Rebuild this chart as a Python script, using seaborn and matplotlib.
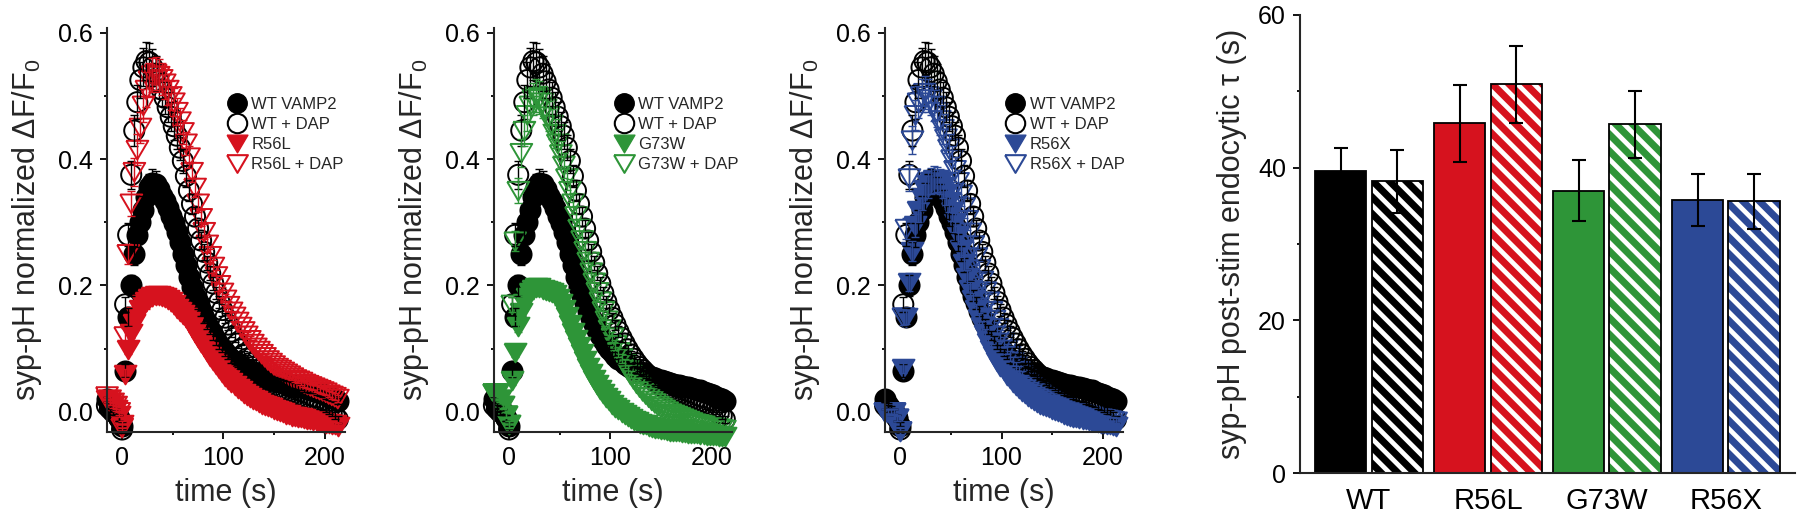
import matplotlib
matplotlib.use("Agg")
import matplotlib.pyplot as plt
from matplotlib.lines import Line2D
from matplotlib.patches import Rectangle
from matplotlib.ticker import MultipleLocator, FormatStrFormatter
import numpy as np
import pandas as pd
import seaborn as sns

sns.set_style("ticks")
plt.rcParams["font.family"] = ["Liberation Sans", "DejaVu Sans"]
plt.rcParams["mathtext.fontset"] = "custom"
plt.rcParams["mathtext.rm"] = "Liberation Sans"
plt.rcParams["mathtext.it"] = "Liberation Sans:italic"
plt.rcParams["mathtext.default"] = "regular"
plt.rcParams["hatch.linewidth"] = 3.4
plt.rcParams["axes.linewidth"] = 1.5
for ax_name in ("xtick", "ytick"):
    plt.rcParams[f"{ax_name}.major.size"] = 5
    plt.rcParams[f"{ax_name}.minor.size"] = 2.5
    plt.rcParams[f"{ax_name}.major.width"] = 1.3
    plt.rcParams[f"{ax_name}.minor.width"] = 1.3
    plt.rcParams[f"{ax_name}.color"] = "black"

BLACK = "#000000"
RED = "#D6121E"
GREEN = "#2E9538"
BLUE = "#2C4996"

# --- traces: sampled every 3 s from -15 s to 213 s ---
time_s = np.arange(-15, 214, 3)

wt_vamp2 = [0.02, 0.01, 0.005, 0.0, -0.01, -0.022, 0.065, 0.15, 0.20, 0.25,
            0.28, 0.30, 0.32, 0.34, 0.355, 0.362, 0.36, 0.352, 0.342, 0.333,
            0.322, 0.31, 0.298, 0.285, 0.268, 0.25, 0.232, 0.214, 0.197, 0.184,
            0.172, 0.160, 0.149, 0.139, 0.130, 0.121, 0.113, 0.106, 0.100, 0.094,
            0.089, 0.084, 0.080, 0.076, 0.073, 0.070, 0.067, 0.065, 0.063, 0.061,
            0.059, 0.057, 0.055, 0.053, 0.051, 0.050, 0.048, 0.047, 0.046, 0.044,
            0.043, 0.042, 0.041, 0.040, 0.039, 0.037, 0.036, 0.035, 0.034, 0.032,
            0.030, 0.028, 0.026, 0.024, 0.022, 0.020, 0.017]
wt_vamp2_sem = [.004, .004, .004, .004, .005, .006, .010, .014, .016, .018,
                .019, .020, .021, .022, .022, .022, .021, .020, .019, .018,
                .017, .016, .015, .014, .013, .012, .011, .010, .010, .009,
                .009, .008, .008, .008, .007, .007, .007, .006, .006, .006,
                .006, .006, .005, .005, .005, .005, .005, .005, .005, .005,
                .005, .005, .005, .005, .005, .005, .005, .005, .005, .005,
                .005, .005, .005, .005, .005, .005, .005, .005, .005, .005,
                .005, .005, .005, .005, .005, .005, .005]

wt_dap = [0.01, 0.005, 0.0, 0.0, -0.01, -0.028, 0.17, 0.28, 0.375, 0.445,
          0.49, 0.525, 0.545, 0.555, 0.553, 0.545, 0.535, 0.523, 0.51, 0.497,
          0.482, 0.467, 0.452, 0.437, 0.418, 0.397, 0.373, 0.350, 0.329, 0.309,
          0.290, 0.271, 0.253, 0.236, 0.219, 0.203, 0.188, 0.174, 0.161, 0.149,
          0.138, 0.127, 0.117, 0.108, 0.099, 0.091, 0.084, 0.077, 0.071, 0.066,
          0.061, 0.056, 0.052, 0.048, 0.045, 0.042, 0.039, 0.036, 0.034, 0.032,
          0.030, 0.028, 0.026, 0.024, 0.022, 0.020, 0.018, 0.016, 0.014, 0.012,
          0.010, 0.008, 0.005, 0.002, -0.002, -0.006, -0.012]
wt_dap_sem = [.005, .005, .005, .005, .005, .006, .012, .018, .022, .025,
              .027, .029, .030, .030, .030, .029, .028, .027, .026, .025,
              .024, .023, .022, .021, .020, .019, .018, .017, .016, .015,
              .014, .013, .012, .011, .011, .010, .010, .009, .009, .008,
              .008, .008, .007, .007, .007, .006, .006, .006, .006, .006,
              .005, .005, .005, .005, .005, .005, .005, .005, .005, .005,
              .005, .005, .005, .005, .005, .005, .005, .005, .005, .005,
              .005, .005, .005, .005, .005, .005, .005]

r56l = [0.02, 0.015, 0.01, 0.005, -0.005, -0.02, 0.06, 0.10, 0.125, 0.14,
        0.152, 0.162, 0.17, 0.175, 0.18, 0.183, 0.185, 0.185, 0.184, 0.182,
        0.179, 0.175, 0.170, 0.165, 0.16, 0.155, 0.15, 0.143, 0.135, 0.127,
        0.119, 0.111, 0.104, 0.096, 0.089, 0.082, 0.075, 0.069, 0.063, 0.057,
        0.052, 0.047, 0.042, 0.038, 0.034, 0.030, 0.027, 0.024, 0.021, 0.018,
        0.015, 0.013, 0.011, 0.009, 0.007, 0.005, 0.003, 0.001, -0.001, -0.003,
        -0.004, -0.006, -0.007, -0.008, -0.009, -0.010, -0.011, -0.012, -0.013, -0.014,
        -0.015, -0.016, -0.017, -0.018, -0.019, -0.020, -0.022]
r56l_sem = [.004, .004, .004, .004, .004, .005, .007, .008, .009, .010,
            .010, .011, .011, .012, .012, .012, .012, .012, .012, .011,
            .011, .011, .010, .010, .010, .009, .009, .009, .008, .008,
            .008, .007, .007, .007, .006, .006, .006, .006, .005, .005,
            .005, .005, .005, .005, .005, .004, .004, .004, .004, .004,
            .004, .004, .004, .004, .004, .004, .004, .004, .004, .004,
            .004, .004, .004, .004, .004, .004, .004, .004, .004, .004,
            .004, .004, .004, .004, .004, .004, .004]

r56l_dap = [0.025, 0.02, 0.015, 0.01, 0.0, -0.025, 0.12, 0.25, 0.33, 0.38,
            0.415, 0.45, 0.485, 0.51, 0.525, 0.533, 0.535, 0.532, 0.527, 0.52,
            0.51, 0.50, 0.49, 0.475, 0.46, 0.443, 0.425, 0.403, 0.38, 0.355,
            0.33, 0.307, 0.285, 0.265, 0.247, 0.23, 0.215, 0.201, 0.189, 0.178,
            0.168, 0.159, 0.151, 0.143, 0.135, 0.128, 0.121, 0.114, 0.108, 0.102,
            0.097, 0.092, 0.087, 0.082, 0.078, 0.074, 0.070, 0.067, 0.064, 0.061,
            0.058, 0.055, 0.052, 0.050, 0.048, 0.045, 0.043, 0.041, 0.039, 0.037,
            0.035, 0.033, 0.031, 0.028, 0.026, 0.024, 0.021]
r56l_dap_sem = [.005, .005, .005, .005, .005, .006, .012, .016, .020, .022,
                .024, .025, .026, .027, .027, .027, .026, .026, .025, .025,
                .024, .023, .022, .021, .020, .019, .018, .017, .016, .015,
                .014, .013, .012, .012, .011, .011, .010, .010, .009, .009,
                .008, .008, .008, .007, .007, .007, .006, .006, .006, .006,
                .006, .005, .005, .005, .005, .005, .005, .005, .005, .005,
                .005, .005, .005, .005, .005, .005, .005, .005, .005, .005,
                .005, .005, .005, .005, .005, .005, .005]

g73w = [0.03, 0.03, 0.02, 0.01, -0.005, -0.02, 0.05, 0.095, 0.135, 0.158,
        0.172, 0.182, 0.19, 0.195, 0.198, 0.198, 0.195, 0.192, 0.191, 0.19,
        0.186, 0.18, 0.172, 0.162, 0.151, 0.139, 0.127, 0.115, 0.104, 0.093,
        0.082, 0.071, 0.061, 0.052, 0.044, 0.036, 0.029, 0.023, 0.018, 0.013,
        0.008, 0.004, 0.0, -0.004, -0.007, -0.010, -0.013, -0.015, -0.017, -0.019,
        -0.020, -0.022, -0.024, -0.025, -0.026, -0.027, -0.028, -0.029, -0.030, -0.030,
        -0.031, -0.031, -0.032, -0.032, -0.033, -0.033, -0.034, -0.034, -0.035, -0.035,
        -0.036, -0.036, -0.037, -0.037, -0.038, -0.038, -0.039]
g73w_sem = [.004, .004, .004, .004, .004, .005, .007, .008, .009, .010,
            .011, .011, .012, .012, .012, .012, .012, .012, .012, .011,
            .011, .011, .010, .010, .010, .009, .009, .009, .008, .008,
            .008, .007, .007, .007, .006, .006, .006, .006, .005, .005,
            .005, .005, .005, .005, .005, .004, .004, .004, .004, .004,
            .004, .004, .004, .004, .004, .004, .004, .004, .004, .004,
            .004, .004, .004, .004, .004, .004, .004, .004, .004, .004,
            .004, .004, .004, .004, .004, .004, .004]

g73w_dap = [0.03, 0.03, 0.02, 0.01, -0.005, -0.02, 0.17, 0.27, 0.35, 0.41,
            0.445, 0.47, 0.485, 0.495, 0.5, 0.497, 0.49, 0.48, 0.468, 0.455,
            0.44, 0.425, 0.408, 0.39, 0.37, 0.35, 0.33, 0.31, 0.29, 0.272,
            0.255, 0.238, 0.221, 0.205, 0.19, 0.175, 0.16, 0.145, 0.131, 0.118,
            0.106, 0.095, 0.085, 0.076, 0.067, 0.059, 0.052, 0.045, 0.039, 0.033,
            0.028, 0.023, 0.018, 0.014, 0.010, 0.007, 0.004, 0.001, -0.002, -0.004,
            -0.006, -0.008, -0.010, -0.012, -0.014, -0.016, -0.018, -0.019, -0.020, -0.021,
            -0.022, -0.023, -0.024, -0.025, -0.026, -0.027, -0.028]
g73w_dap_sem = [.005, .005, .005, .005, .005, .006, .012, .016, .020, .022,
                .024, .025, .026, .026, .026, .026, .025, .025, .024, .024,
                .023, .022, .021, .020, .019, .018, .017, .016, .015, .014,
                .013, .012, .012, .011, .011, .010, .010, .009, .009, .008,
                .008, .008, .007, .007, .007, .006, .006, .006, .006, .006,
                .005, .005, .005, .005, .005, .005, .005, .005, .005, .005,
                .005, .005, .005, .005, .005, .005, .005, .005, .005, .005,
                .005, .005, .005, .005, .005, .005, .005]

r56x = [0.0, 0.0, 0.0, 0.0, -0.01, -0.03, 0.07, 0.15, 0.205, 0.255,
        0.295, 0.32, 0.34, 0.352, 0.36, 0.365, 0.368, 0.368, 0.364, 0.357,
        0.346, 0.333, 0.318, 0.3, 0.28, 0.258, 0.236, 0.214, 0.195, 0.178,
        0.162, 0.148, 0.135, 0.123, 0.111, 0.100, 0.090, 0.081, 0.073, 0.066,
        0.059, 0.053, 0.047, 0.042, 0.037, 0.033, 0.029, 0.025, 0.022, 0.019,
        0.016, 0.013, 0.011, 0.009, 0.007, 0.005, 0.003, 0.001, -0.001, -0.003,
        -0.005, -0.006, -0.008, -0.009, -0.010, -0.011, -0.012, -0.013, -0.014, -0.015,
        -0.016, -0.017, -0.018, -0.019, -0.020, -0.021, -0.022]
r56x_sem = [.004, .004, .004, .004, .004, .005, .008, .011, .014, .016,
            .018, .019, .020, .021, .021, .021, .021, .020, .020, .019,
            .018, .017, .016, .015, .014, .013, .012, .011, .010, .010,
            .009, .009, .008, .008, .007, .007, .007, .006, .006, .006,
            .005, .005, .005, .005, .005, .005, .005, .005, .005, .005,
            .004, .004, .004, .004, .004, .004, .004, .004, .004, .004,
            .004, .004, .004, .004, .004, .004, .004, .004, .004, .004,
            .004, .004, .004, .004, .004, .004, .004]

r56x_dap = [0.0, 0.0, 0.0, 0.0, -0.01, -0.03, 0.15, 0.29, 0.37, 0.43,
            0.47, 0.49, 0.5, 0.505, 0.5, 0.495, 0.485, 0.475, 0.462, 0.448,
            0.433, 0.417, 0.4, 0.383, 0.364, 0.344, 0.324, 0.304, 0.284, 0.264,
            0.245, 0.226, 0.208, 0.191, 0.175, 0.16, 0.146, 0.133, 0.121, 0.11,
            0.099, 0.089, 0.08, 0.072, 0.065, 0.058, 0.052, 0.046, 0.041, 0.036,
            0.032, 0.028, 0.024, 0.021, 0.018, 0.015, 0.012, 0.010, 0.008, 0.006,
            0.004, 0.002, 0.0, -0.002, -0.003, -0.004, -0.005, -0.006, -0.007, -0.008,
            -0.009, -0.010, -0.011, -0.012, -0.013, -0.014, -0.015]
r56x_dap_sem = [.005, .005, .005, .005, .005, .006, .012, .016, .020, .022,
                .024, .025, .026, .026, .026, .026, .025, .025, .024, .024,
                .023, .022, .021, .020, .019, .018, .017, .016, .015, .014,
                .013, .012, .012, .011, .011, .010, .010, .009, .009, .008,
                .008, .008, .007, .007, .007, .006, .006, .006, .006, .006,
                .005, .005, .005, .005, .005, .005, .005, .005, .005, .005,
                .005, .005, .005, .005, .005, .005, .005, .005, .005, .005,
                .005, .005, .005, .005, .005, .005, .005]

# --- bar panel: post-stim endocytic tau ---
groups = ["WT", "R56L", "G73W", "R56X"]
group_colors = [BLACK, RED, GREEN, BLUE]
tau_ctrl = [39.5, 45.8, 37.0, 35.8]
tau_ctrl_sem = [3.1, 5.0, 4.0, 3.4]
tau_dap = [38.2, 50.9, 45.7, 35.6]
tau_dap_sem = [4.1, 5.1, 4.4, 3.6]

# downward triangle, a bit wider than tall
TRI = [(-1.0, 0.8), (1.0, 0.8), (0.0, -0.9), (-1.0, 0.8)]
CIRCLE_S = 210
TRI_S = 250


def draw_trace(ax, mut_name, mut, mut_sem, mut_dap, mut_dap_sem, color):
    series = [
        (wt_vamp2, wt_vamp2_sem, BLACK, True, "o", CIRCLE_S),
        (wt_dap, wt_dap_sem, BLACK, False, "o", CIRCLE_S),
        (mut_dap, mut_dap_sem, color, False, TRI, TRI_S),
        (mut, mut_sem, color, True, TRI, TRI_S),
    ]
    for vals, sem, c, filled, mk, size in series:
        eb = ax.errorbar(time_s, vals, yerr=sem, fmt="none", ecolor=c,
                         elinewidth=1.0, capsize=3, capthick=1.0)
        for art in eb.lines[1] + eb.lines[2]:
            art.set_clip_on(False)
        sns.scatterplot(x=time_s, y=vals, ax=ax, marker=mk, s=size,
                        facecolor=c if filled else "none", edgecolor=c,
                        linewidth=1.4)
        ax.collections[-1].set_clip_on(False)

    ax.set_xlim(-15, 220)
    ax.set_ylim(-0.032, 0.607)
    ax.xaxis.set_major_locator(MultipleLocator(100))
    ax.xaxis.set_minor_locator(MultipleLocator(50))
    ax.yaxis.set_major_locator(MultipleLocator(0.2))
    ax.yaxis.set_minor_locator(MultipleLocator(0.1))
    ax.yaxis.set_major_formatter(FormatStrFormatter("%.1f"))
    ax.tick_params(which="both", direction="out", labelsize=18, pad=5)
    ax.set_xlabel("time (s)", fontsize=22, labelpad=6)
    ax.set_ylabel("syp-pH normalized ΔF/F$_0$", fontsize=22, labelpad=10)
    sns.despine(ax=ax)

    handles = [
        Line2D([], [], ls="", marker="o", ms=14, mfc=BLACK, mec=BLACK),
        Line2D([], [], ls="", marker="o", ms=14, mfc="none", mec=BLACK, mew=1.5),
        Line2D([], [], ls="", marker=TRI, ms=15, mfc=color, mec=color),
        Line2D([], [], ls="", marker=TRI, ms=15, mfc="none", mec=color, mew=1.5),
    ]
    labels = ["WT VAMP2", "WT + DAP", mut_name, f"{mut_name} + DAP"]
    ax.legend(handles, labels, loc="upper left", bbox_to_anchor=(0.52, 0.83),
              frameon=False, fontsize=12, handlelength=0.8, handletextpad=0.45,
              labelspacing=0.3, borderpad=0, borderaxespad=0)


fig = plt.figure(figsize=(18, 5.19), dpi=100)

trace_axes = [
    fig.add_axes([0.0594, 0.1676, 0.1322, 0.778]),
    fig.add_axes([0.2744, 0.1676, 0.1322, 0.778]),
    fig.add_axes([0.4917, 0.1676, 0.1322, 0.778]),
]
draw_trace(trace_axes[0], "R56L", r56l, r56l_sem, r56l_dap, r56l_dap_sem, RED)
draw_trace(trace_axes[1], "G73W", g73w, g73w_sem, g73w_dap, g73w_dap_sem, GREEN)
draw_trace(trace_axes[2], "R56X", r56x, r56x_sem, r56x_dap, r56x_dap_sem, BLUE)

# bar chart
ax_bar = fig.add_axes([0.7222, 0.0886, 0.275, 0.8825])
bar_df = pd.DataFrame({
    "group": groups * 2,
    "condition": ["ctrl"] * len(groups) + ["DAP"] * len(groups),
    "tau": tau_ctrl + tau_dap,
})
sem_lookup = {("ctrl", g): s for g, s in zip(groups, tau_ctrl_sem)}
sem_lookup.update({("DAP", g): s for g, s in zip(groups, tau_dap_sem)})

sns.barplot(data=bar_df, x="group", y="tau", hue="condition",
            hue_order=["ctrl", "DAP"], order=groups, width=0.95, gap=0.09,
            errorbar=None, legend=False, ax=ax_bar)

for p in list(ax_bar.patches):
    cx = p.get_x() + p.get_width() / 2
    gi = int(round(cx))
    cond = "ctrl" if cx < gi else "DAP"
    col = group_colors[gi]
    p.set_facecolor(col)
    if cond == "ctrl":
        p.set_edgecolor("black")
        p.set_linewidth(1.3)
    else:
        # white stripes on the group colour, outline drawn on top
        p.set_edgecolor("white")
        p.set_hatch("\\\\")
        p.set_linewidth(0)
        ax_bar.add_patch(Rectangle(p.get_xy(), p.get_width(), p.get_height(),
                                   fill=False, edgecolor="black", lw=1.3,
                                   zorder=p.get_zorder() + 0.1))
    ax_bar.errorbar(cx, p.get_height(), yerr=sem_lookup[(cond, groups[gi])],
                    fmt="none", ecolor="black", elinewidth=1.5, capsize=5,
                    capthick=1.5, zorder=5)

ax_bar.set_xlim(-0.58, 3.58)
ax_bar.set_ylim(0, 60)
ax_bar.yaxis.set_major_locator(MultipleLocator(20))
ax_bar.yaxis.set_minor_locator(MultipleLocator(10))
ax_bar.tick_params(axis="y", which="both", direction="out", labelsize=18, pad=5)
ax_bar.tick_params(axis="x", length=0, labelsize=21, pad=10)
ax_bar.set_xlabel("")
ax_bar.set_ylabel("syp-pH post-stim endocytic τ (s)", fontsize=22, labelpad=8)
sns.despine(ax=ax_bar)

fig.savefig("out.png", dpi=100)
plt.close(fig)
